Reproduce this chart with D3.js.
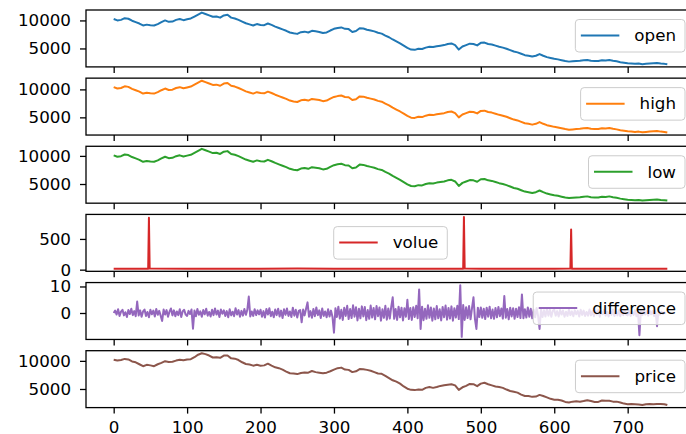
<!DOCTYPE html>
<html>
<head>
<meta charset="utf-8">
<script src="https://cdn.jsdelivr.net/npm/d3@7"></script>
<style>
body { margin: 0; background: #fff; }
svg { display: block; font-family: "DejaVu Sans", sans-serif; }
</style>
</head>
<body>
<div class="background"></div>
<script>
// row index of the frame (pandas RangeIndex), read every 5 rows for the price like columns
var sampleIndex = d3.range(0, 751, 5).concat([754]);

var openValues = [
  10250,10000,10100,10400,10300,9950,9700,9450,9100,9250,
  9150,9100,9350,9700,10000,9750,9800,10100,10250,10050,
  10200,10350,10700,11050,11400,11150,10900,10650,10700,10500,
  10900,11000,10500,10350,10100,9800,9500,9300,9100,9350,
  9200,9150,9450,9200,8900,8650,8400,8150,7850,7700,
  7600,7900,8000,7850,8150,8050,7950,7750,7850,8200,
  8500,8650,8750,8500,8450,7950,8100,8600,8550,8350,
  8200,8050,7800,7650,7300,7000,6600,6250,5900,5500,
  5100,4800,4750,4950,4900,5150,5300,5250,5400,5500,
  5600,5800,5900,5600,4800,5350,5600,5850,5800,5550,
  6000,6050,5800,5700,5500,5300,5150,4950,4700,4450,
  4300,4050,3800,3700,3550,3700,4000,3700,3450,3300,
  3150,3050,2900,2750,2650,2700,2750,2800,2900,2950,
  2800,2750,2750,2900,2850,2950,2800,2700,2550,2450,
  2350,2300,2250,2300,2200,2250,2300,2350,2400,2300,
  2250,2170];

var highValues = [
  10400,10150,10250,10550,10450,10100,9850,9600,9250,9400,
  9300,9250,9500,9850,10150,9900,9950,10250,10400,10200,
  10350,10500,10850,11200,11550,11300,11050,10800,10850,10650,
  11050,11150,10650,10500,10250,9950,9650,9450,9250,9500,
  9350,9300,9600,9350,9050,8800,8550,8300,8000,7850,
  7750,8050,8150,8000,8300,8200,8100,7900,8000,8350,
  8650,8800,8900,8650,8600,8100,8250,8750,8700,8500,
  8350,8200,7950,7800,7450,7150,6750,6400,6050,5650,
  5250,4950,4900,5100,5050,5300,5450,5400,5550,5650,
  5750,5950,6050,5750,5000,5500,5750,6000,5950,5700,
  6150,6200,5950,5850,5650,5450,5300,5100,4850,4600,
  4450,4200,3950,3850,3700,3850,4150,3850,3600,3450,
  3300,3200,3050,2900,2800,2850,2900,2950,3050,3100,
  2950,2900,2900,3050,3000,3100,2950,2850,2700,2600,
  2500,2450,2400,2450,2350,2400,2450,2500,2550,2450,
  2400,2300];

var lowValues = [
  10100,9850,9950,10250,10150,9800,9550,9300,8950,9100,
  9000,8950,9200,9550,9850,9600,9650,9950,10100,9900,
  10050,10200,10550,10900,11250,11000,10750,10500,10550,10350,
  10750,10850,10350,10200,9950,9650,9350,9150,8950,9200,
  9050,9000,9300,9050,8750,8500,8250,8000,7700,7550,
  7450,7750,7850,7700,8000,7900,7800,7600,7700,8050,
  8350,8500,8600,8350,8300,7800,7950,8450,8400,8200,
  8050,7900,7650,7500,7150,6850,6450,6100,5750,5350,
  4950,4650,4600,4800,4750,5000,5150,5100,5250,5350,
  5450,5650,5750,5450,4650,5200,5450,5700,5650,5400,
  5850,5900,5650,5550,5350,5150,5000,4800,4550,4300,
  4150,3900,3650,3550,3400,3550,3850,3550,3300,3150,
  3000,2900,2750,2600,2500,2550,2600,2650,2750,2800,
  2650,2600,2600,2750,2700,2800,2650,2550,2400,2300,
  2200,2150,2100,2150,2050,2100,2150,2200,2250,2150,
  2100,2050];

var priceValues = [
  10200,10050,10150,10350,10250,9900,9750,9400,9050,9300,
  9200,9050,9400,9650,9950,9800,9850,10050,10200,10100,
  10250,10300,10650,11100,11350,11200,10950,10600,10650,10550,
  10950,10950,10450,10400,10150,9750,9450,9350,9150,9300,
  9150,9200,9500,9150,8850,8700,8450,8100,7800,7750,
  7650,7850,7950,7900,8200,8000,7900,7800,7900,8150,
  8450,8700,8800,8450,8400,8000,8150,8550,8500,8400,
  8250,8000,7750,7700,7350,6950,6550,6300,5950,5450,
  5050,4850,4800,4900,4850,5200,5350,5200,5350,5550,
  5650,5750,5850,5650,4850,5300,5550,5900,5850,5500,
  5950,6100,5850,5650,5450,5350,5200,4900,4650,4500,
  4350,4000,3750,3750,3600,3650,3950,3750,3500,3250,
  3100,3100,2950,2700,2600,2750,2800,2750,2850,3000,
  2850,2700,2700,2950,2900,2900,2750,2750,2600,2400,
  2300,2350,2300,2250,2150,2300,2350,2300,2350,2350,
  2300,2150];

// volume column: flat with three single-row spikes
var volueIndex = [0,20,47,48,49,100,150,200,250,300,350,400,450,476,477,478,500,550,600,622,623,624,650,700,754];
var volueValues = [15,16,16,843,17,15,16,15,17,16,15,16,15,16,857,17,16,15,16,17,655,16,15,16,15];

// difference column, read every 2 rows
var differenceIndex = d3.range(0, 753, 2);
var differenceValues = [
  0.0,0.9,-0.6,1.4,-1.1,0.5,1.2,-0.9,0.3,-1.5,1.1,-0.4,1.6,-0.8,0.7,-1.2,4.3,-0.9,1.0,-1.4,
  0.6,1.3,-1.1,0.4,-1.6,1.2,-0.5,0.9,-1.3,1.5,-0.7,0.8,-1.0,-3.0,1.3,-0.6,1.1,-1.4,0.5,1.7,
  -0.9,1.0,-1.2,0.6,-0.8,1.4,-1.5,0.7,1.2,-0.6,
  -1.1,0.8,-0.4,1.3,-5.9,0.9,-1.2,1.5,-0.7,0.6,-1.4,1.1,-0.5,1.6,-1.0,0.4,-1.3,1.2,-0.8,1.7,
  -0.6,0.9,-1.5,1.3,-0.3,1.0,-1.1,0.7,-1.6,1.4,-0.9,0.5,-1.2,1.8,-0.6,1.1,-1.4,0.8,-1.0,1.5,
  -0.7,1.2,6.2,-1.3,0.6,-1.1,1.4,-0.8,1.0,-0.5,
  1.2,-1.4,0.7,-1.7,1.5,-0.6,1.8,-1.2,0.5,-1.6,1.3,-0.8,1.6,-1.3,0.9,-1.9,1.4,-0.7,1.7,-1.1,
  0.6,-1.5,2.0,-1.0,1.2,-1.7,0.8,1.1,-3.5,1.3,-0.9,1.6,4.0,-1.4,0.7,-1.8,1.5,-1.2,2.1,-0.8,
  1.0,-1.9,1.7,-1.1,0.6,-1.6,1.4,-1.3,0.9,-1.5,
  -7.4,1.8,-1.5,2.4,-2.1,1.2,-2.6,2.0,-1.1,2.7,-2.3,1.5,-1.9,2.9,-1.4,2.2,-2.8,1.6,-2.0,2.5,
  -1.3,2.3,-2.7,1.1,-2.2,2.8,-1.7,1.9,-2.4,2.6,-1.2,2.1,-2.9,1.4,-1.8,2.7,-2.5,1.7,-2.1,2.3,
  5.9,-2.2,1.5,-2.6,2.4,-1.6,2.0,-2.8,1.8,-1.4,
  5.0,-2.3,1.9,-2.6,2.2,-1.5,2.7,-2.0,8.9,-6.0,2.4,-2.7,1.6,-2.2,2.9,-1.8,2.1,-2.9,1.7,-2.4,
  2.6,-2.0,1.4,-2.8,2.3,-1.6,2.8,-2.5,1.9,-2.1,2.5,-2.9,1.8,-1.7,2.7,-2.3,10.5,-9.0,3.0,-2.6,
  2.2,-1.9,2.6,-2.4,1.8,5.9,-2.2,-6.0,2.0,-1.5,
  2.1,-1.8,1.6,-2.3,2.0,-1.4,2.4,-2.0,1.3,-2.2,1.9,-1.6,2.3,-1.2,1.7,-2.1,6.4,-1.8,1.5,-2.4,
  2.0,-1.3,1.8,-2.2,1.6,-1.5,2.2,-1.9,7.0,-2.0,1.4,-1.7,2.1,-1.4,1.6,-2.0,1.2,-1.6,1.9,-1.1,
  -6.0,1.3,-1.5,1.0,-1.3,1.5,-1.0,1.2,-1.4,0.8,
  1.2,-1.0,0.7,-1.3,1.1,-0.6,0.9,-1.4,0.5,-1.1,1.3,-0.8,0.6,-1.2,1.0,-0.5,0.8,-1.3,1.2,-0.7,
  0.9,-1.1,0.4,-1.0,1.3,-0.9,0.7,-1.2,1.0,-0.6,1.1,-1.4,0.8,-0.5,1.2,-1.0,0.6,-1.3,0.9,-0.7,
  1.3,-1.1,0.5,-0.9,1.0,-1.2,0.7,-0.8,1.1,-0.6,
  -0.9,0.8,-1.1,0.6,-0.7,1.0,-1.2,0.5,-8.4,0.9,-0.8,1.1,-0.6,0.7,-1.0,0.9,-0.5,0.8,-1.1,0.6,
  -5.0,0.7,-0.6,0.5,-0.4,0.3,-0.2];

var seriesNames = ["open", "high", "low", "volue", "difference", "price"];
var seriesColors = ["#1f77b4", "#ff7f0e", "#2ca02c", "#d62728", "#9467bd", "#8c564b"];
var xTicks = [0, 100, 200, 300, 400, 500, 600, 700];
var yTicks = [[5000, 10000], [5000, 10000], [5000, 10000], [0, 500], [0, 10], [5000, 10000]];
var legendPlace = ["upper right", "upper right", "upper right", "center", "upper right", "upper right"];

var panels = [
  {idx: sampleIndex, val: openValues},
  {idx: sampleIndex, val: highValues},
  {idx: sampleIndex, val: lowValues},
  {idx: volueIndex, val: volueValues},
  {idx: differenceIndex, val: differenceValues},
  {idx: sampleIndex, val: priceValues}
];

var W = 686, H = 434;
var left = 86, right = 695, firstTop = 10, panelStep = 68.14, panelHeight = 56.9;
var fontSize = 16.7;

var svg = d3.select("div.background").append("svg").attr("width", W).attr("height", H);

//matplotlib style 5% margins
function padded(ext) {
    var m = (ext[1] - ext[0]) * 0.05;
    return [ext[0] - m, ext[1] + m];
}

var x = d3.scaleLinear().domain(padded([0, 754])).range([left, right]);

panels.forEach(function(p, i) {
    var top = firstTop + i * panelStep;
    var g = svg.append("g").attr("transform", "translate(0," + top + ")");
    var y = d3.scaleLinear().domain(padded(d3.extent(p.val))).range([panelHeight, 0]);

    g.append("clipPath").attr("id", "clip" + i)
        .append("rect").attr("x", left).attr("y", 0).attr("width", right - left).attr("height", panelHeight);

    var pts = p.idx.map(function(d, j) { return [d, p.val[j]]; });
    g.append("path")
        .datum(pts)
        .attr("clip-path", "url(#clip" + i + ")")
        .attr("fill", "none")
        .attr("stroke", seriesColors[i])
        .attr("stroke-width", 2)
        .attr("stroke-linejoin", "round")
        .attr("d", d3.line().x(function(d) { return x(d[0]); }).y(function(d) { return y(d[1]); }));

    var yAxis = g.append("g").attr("transform", "translate(" + left + ",0)")
        .call(d3.axisLeft(y).tickValues(yTicks[i]).tickSize(6).tickPadding(9).tickFormat(d3.format("d")));
    var xAxis = g.append("g").attr("transform", "translate(0," + panelHeight + ")")
        .call(d3.axisBottom(x).tickValues(xTicks).tickSize(6).tickPadding(8)
              .tickFormat(i == panels.length - 1 ? d3.format("d") : function() { return ""; }));
    [yAxis, xAxis].forEach(function(a) {
        a.select(".domain").remove();
        a.selectAll("line").attr("stroke", "#000").attr("stroke-width", 1.3);
        a.selectAll("text").attr("fill", "#000").attr("font-size", fontSize)
            .attr("font-family", "DejaVu Sans, sans-serif");
    });

    g.append("rect")
        .attr("x", left).attr("y", 0).attr("width", right - left).attr("height", panelHeight)
        .attr("fill", "none").attr("stroke", "#000").attr("stroke-width", 1.3);

    addLegend(g, seriesNames[i], seriesColors[i], legendPlace[i]);
});

function addLegend(g, name, color, place) {
    var leg = g.append("g");
    var box = leg.append("rect");
    var label = leg.append("text").text(name)
        .attr("font-size", fontSize).attr("fill", "#000").attr("dy", "0.35em");
    var textWidth = label.node().getComputedTextLength();
    var boxW = textWidth + 68, boxH = 32.5;
    var bx, by;
    if (place == "center") {
        bx = (left + right) / 2 - boxW / 2;
        by = panelHeight / 2 - boxH / 2;
    } else {
        bx = right - 10 - boxW;
        by = 9.5;
    }
    box.attr("x", bx).attr("y", by).attr("width", boxW).attr("height", boxH)
        .attr("rx", 3.5).attr("ry", 3.5)
        .attr("fill", "#fff").attr("fill-opacity", 0.8)
        .attr("stroke", "#cccccc").attr("stroke-width", 1);
    leg.insert("line", "text")
        .attr("x1", bx + 5.5).attr("x2", bx + 44)
        .attr("y1", by + 16).attr("y2", by + 16)
        .attr("stroke", color).attr("stroke-width", 2);
    label.attr("x", bx + 59).attr("y", by + 16);
}
</script>
</body>
</html>
